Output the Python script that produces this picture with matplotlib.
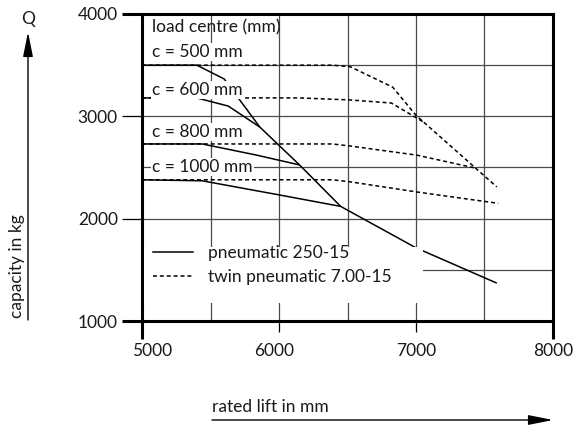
import matplotlib
matplotlib.use('Agg')
import matplotlib.pyplot as plt
import matplotlib.transforms as mtransforms
from matplotlib.patches import Rectangle

plt.rcParams['font.family'] = ['Lato', 'DejaVu Sans']
plt.rcParams['font.size'] = 12.5
plt.rcParams['text.color'] = '#1a1a1a'
plt.rcParams['xtick.labelcolor'] = '#1a1a1a'
plt.rcParams['ytick.labelcolor'] = '#1a1a1a'

# values: rated lift (mm) -> capacity (kg)
load_centres = ['c = 500 mm', 'c = 600 mm', 'c = 800 mm', 'c = 1000 mm']

pneu_lift = [
    [5000, 5400, 5600, 5860, 6150, 6450, 7000, 7590],
    [5000, 5400, 5630, 5860],
    [5000, 5440, 5840, 6150],
    [5000, 5440, 6010, 6450],
]
pneu_cap = [
    [3500, 3500, 3365, 2895, 2525, 2120, 1715, 1370],
    [3180, 3180, 3100, 2895],
    [2730, 2730, 2620, 2525],
    [2380, 2370, 2230, 2120],
]

twin_lift = [
    [5000, 6390, 6520, 6830, 7000, 7590],
    [5000, 6150, 6520, 6820, 7060],
    [5000, 6390, 6520, 7010, 7430],
    [5000, 6390, 6520, 7010, 7600],
]
twin_cap = [
    [3500, 3500, 3485, 3285, 3010, 2310],
    [3180, 3180, 3160, 3130, 2940],
    [2730, 2730, 2710, 2620, 2495],
    [2380, 2380, 2360, 2260, 2150],
]

x_ticks = [5000, 6000, 7000, 8000]
y_ticks = [1000, 2000, 3000, 4000]
x_minor = [5500, 6500, 7500]
y_minor = [1500, 2500, 3500]

# label anchors (x, baseline y) in data units
label_pos = [(5073, 3580), (5073, 3208), (5073, 2798), (5073, 2456)]

fig = plt.figure(figsize=(5.76, 4.26), dpi=100)
ax = fig.add_axes([142 / 576, 1 - 321 / 426, 411 / 576, 307 / 426])
ax.set_xlim(5000, 8000)
ax.set_ylim(1000, 4000)

# grid every 500
ax.set_xticks(x_ticks)
ax.set_yticks(y_ticks)
ax.set_xticks(x_minor, minor=True)
ax.set_yticks(y_minor, minor=True)
ax.set_axisbelow(True)
ax.grid(True, which='both', color='#4a4a4a', lw=0.9)
ax.tick_params(which='minor', length=0)
ax.tick_params(axis='x', which='major', direction='out', length=13, width=0.9, pad=3)
ax.tick_params(axis='y', which='major', direction='out', length=14.4, width=0.9, pad=3)

for s in ax.spines.values():
    s.set_linewidth(2.2)

xt = ax.xaxis.get_major_ticks()
yt = ax.yaxis.get_major_ticks()
for i in (0, -1):
    xt[i].tick1line.set_markeredgewidth(2.2)
    yt[i].tick1line.set_markeredgewidth(2.2)
for i in (1, 2):
    xt[i].tick1line.set_markersize(8)

# nudge first two x labels like the original
for i, dx in ((0, 10), (1, -5)):
    lbl = xt[i].label1
    lbl.set_transform(lbl.get_transform() + mtransforms.ScaledTranslation(dx / 100, 0, fig.dpi_scale_trans))

for xs, ys in zip(pneu_lift, pneu_cap):
    ax.plot(xs, ys, color='black', lw=1.1, zorder=2, solid_capstyle='butt')
for xs, ys in zip(twin_lift, twin_cap):
    ax.plot(xs, ys, color='black', lw=1.1, zorder=2, dashes=(2.6, 1.9))

ax.text(5073, 3824, 'load centre (mm)', va='baseline', ha='left', zorder=3)
for name, (lx, ly) in zip(load_centres, label_pos):
    ax.text(lx, ly, name, va='baseline', ha='left', zorder=3,
            bbox=dict(facecolor='white', edgecolor='none', pad=1.0))

# legend area is blanked out
ax.add_patch(Rectangle((0.004, 0.0586), 0.68, 0.183, transform=ax.transAxes,
                       facecolor='white', edgecolor='none', zorder=4))
h1, = ax.plot([], [], color='black', lw=1.1, label='pneumatic 250-15')
h2, = ax.plot([], [], color='black', lw=1.1, dashes=(2.6, 1.9), label='twin pneumatic 7.00-15')
leg = ax.legend(handles=[h1, h2], loc='upper left', bbox_to_anchor=(0.0268, 0.248),
                frameon=False, borderpad=0, borderaxespad=0, handlelength=2.3,
                handletextpad=0.85, labelspacing=0.45)
leg.set_zorder(5)

# axis arrows and titles
fig.text(28 / 576, 1 - 19 / 426, 'Q', ha='center', va='center')
ax.annotate('', xy=(28 / 576, 1 - 32 / 426), xytext=(28 / 576, 1 - 320 / 426),
            xycoords='figure fraction', textcoords='figure fraction',
            arrowprops=dict(arrowstyle='-|>,head_length=1.0,head_width=0.2', color='black',
                            lw=1.0, mutation_scale=15, shrinkA=0, shrinkB=0))
fig.text(17.5 / 576, 1 - 266.5 / 426, 'capacity in kg', rotation=90, ha='center', va='center')

ax.annotate('', xy=(553 / 576, 1 - 420 / 426), xytext=(212 / 576, 1 - 420 / 426),
            xycoords='figure fraction', textcoords='figure fraction',
            arrowprops=dict(arrowstyle='-|>,head_length=1.0,head_width=0.2', color='black',
                            lw=1.0, mutation_scale=15, shrinkA=0, shrinkB=0))
fig.text(212 / 576, 1 - 412 / 426, 'rated lift in mm', ha='left', va='baseline')

fig.savefig('out.png', dpi=100)
